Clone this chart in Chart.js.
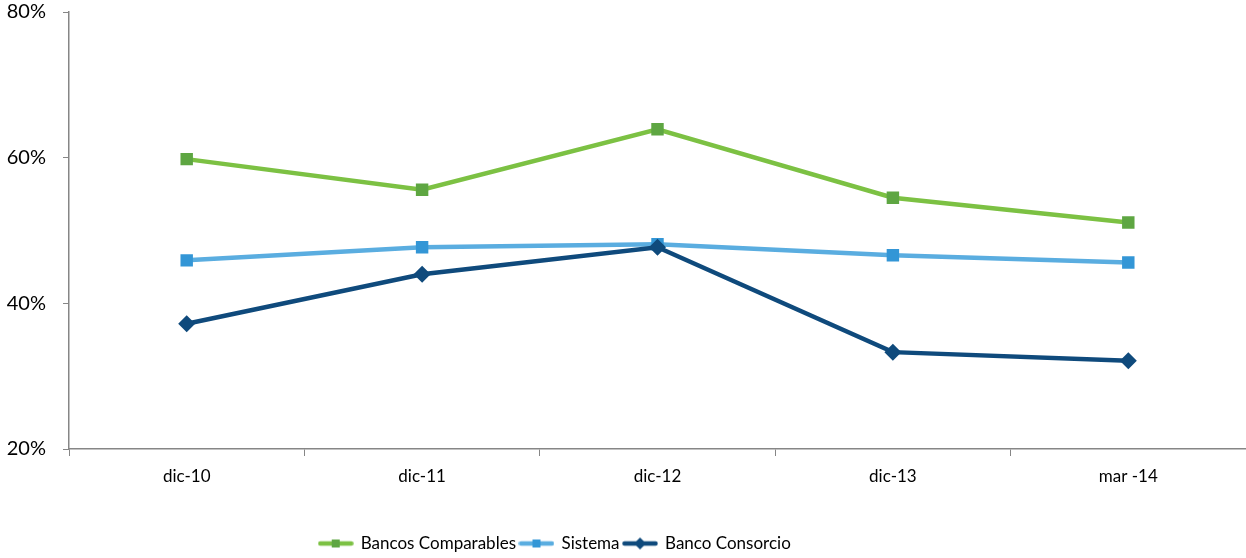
<!DOCTYPE html>
<html>
<head>
<meta charset="utf-8">
<script src="https://cdn.jsdelivr.net/npm/chart.js@4"></script>
<style>
  html, body { margin: 0; padding: 0; background: #ffffff; }
  #wrap { width: 1246px; height: 558px; position: relative; }
</style>
</head>
<body>
<div id="wrap"><canvas id="chart" width="1246" height="558"></canvas></div>
<script>
// Periods on the horizontal axis
const categories = ['dic-10', 'dic-11', 'dic-12', 'dic-13', 'mar -14'];

// Series values, in percent
const bancosComparables = [59.8, 55.6, 63.9, 54.5, 51.1];
const sistema = [45.9, 47.7, 48.1, 46.6, 45.6];
const bancoConsorcio = [37.2, 44.0, 47.7, 33.3, 32.1];

// Vertical axis ticks, in percent
const yTicks = [20, 40, 60, 80];

const FONT = "Lato, 'Open Sans', sans-serif";
const AXIS_GREY = '#868686';

// Small legend swatch: a line segment with the series marker in the middle
function swatch(lineColor, markerColor, shape) {
  const c = document.createElement('canvas');
  c.width = 36; c.height = 14;
  const g = c.getContext('2d');
  g.strokeStyle = lineColor;
  g.lineWidth = 4.5;
  g.lineCap = 'round';
  g.beginPath(); g.moveTo(2.5, 7); g.lineTo(33.5, 7); g.stroke();
  g.fillStyle = markerColor;
  if (shape === 'diamond') {
    g.beginPath();
    g.moveTo(18, 1); g.lineTo(24, 7); g.lineTo(18, 13); g.lineTo(12, 7);
    g.closePath(); g.fill();
  } else {
    g.fillRect(14, 3, 8, 8);
  }
  return c;
}

const series = [
  { label: 'Bancos Comparables', data: bancosComparables, line: '#7cc143', marker: '#5ea642', shape: 'rect', radius: 8.8, order: 2 },
  { label: 'Sistema', data: sistema, line: '#5aade0', marker: '#3396d6', shape: 'rect', radius: 8.8, order: 1 },
  { label: 'Banco Consorcio', data: bancoConsorcio, line: '#0f4a7c', marker: '#0f4a7c', shape: 'rectRot', radius: 8.5, order: 0 }
];

const datasets = series.map(s => ({
  label: s.label,
  data: s.data,
  order: s.order,
  borderColor: s.line,
  backgroundColor: s.marker,
  borderWidth: 4.5,
  tension: 0,
  pointStyle: s.shape,
  pointRadius: s.radius,
  pointHoverRadius: s.radius,
  pointBackgroundColor: s.marker,
  pointBorderColor: s.marker,
  pointBorderWidth: 0,
  legendSwatch: swatch(s.line, s.marker, s.shape === 'rectRot' ? 'diamond' : 'square')
}));

// Moves the legend row after layout
const legendShift = {
  id: 'legendShift',
  afterLayout(chart) {
    const lg = chart.legend;
    if (!lg) return;
    const dx = -68, dy = 4;
    lg.left += dx; lg.right += dx;
    lg.top += dy; lg.bottom += dy;
  }
};

// Scales keep no extra edge padding, so the plot spans to the canvas edge
function noEdgePadding(scale) {
  scale.paddingTop = 0;
  scale.paddingBottom = 0;
  scale.paddingLeft = 0;
  scale.paddingRight = 0;
}

new Chart(document.getElementById('chart'), {
  type: 'line',
  data: { labels: categories, datasets },
  plugins: [legendShift],
  options: {
    responsive: false,
    animation: false,
    devicePixelRatio: 1,
    layout: { autoPadding: false, padding: { top: 12, right: 0, left: 0, bottom: 0 } },
    plugins: {
      tooltip: { enabled: false },
      legend: {
        position: 'bottom',
        labels: {
          usePointStyle: true,
          boxWidth: 33,
          boxHeight: 14,
          pointStyleWidth: 33,
          padding: 4,
          color: '#000000',
          font: { family: FONT, size: 17 },
          sort: (a, b) => a.datasetIndex - b.datasetIndex,
          generateLabels(chart) {
            return chart.data.datasets.map((ds, i) => ({
              text: ds.label,
              datasetIndex: i,
              pointStyle: ds.legendSwatch,
              fillStyle: ds.backgroundColor,
              strokeStyle: ds.borderColor,
              lineWidth: 0,
              hidden: false,
              fontColor: '#000000'
            }));
          }
        }
      }
    },
    scales: {
      x: {
        type: 'category',
        offset: true,
        grid: {
          offset: true,
          drawOnChartArea: false,
          drawTicks: true,
          tickLength: 7,
          color: AXIS_GREY,
          lineWidth: 1
        },
        border: { display: true, color: AXIS_GREY, width: 1.5 },
        ticks: {
          color: '#000000',
          font: { family: FONT, size: 17 },
          padding: 10,
          maxRotation: 0
        },
        afterFit(scale) { scale.height = 78; noEdgePadding(scale); }
      },
      y: {
        min: 20,
        max: 80,
        afterBuildTicks(scale) { scale.ticks = yTicks.map(v => ({ value: v })); },
        grid: {
          drawOnChartArea: false,
          drawTicks: true,
          tickLength: 6,
          color: AXIS_GREY,
          lineWidth: 1
        },
        border: { display: true, color: AXIS_GREY, width: 1.5 },
        ticks: {
          color: '#000000',
          font: { family: FONT, size: 20 },
          padding: 17,
          callback: v => v + '%'
        },
        afterFit(scale) { scale.width = 69; noEdgePadding(scale); }
      }
    }
  }
});
</script>
</body>
</html>
